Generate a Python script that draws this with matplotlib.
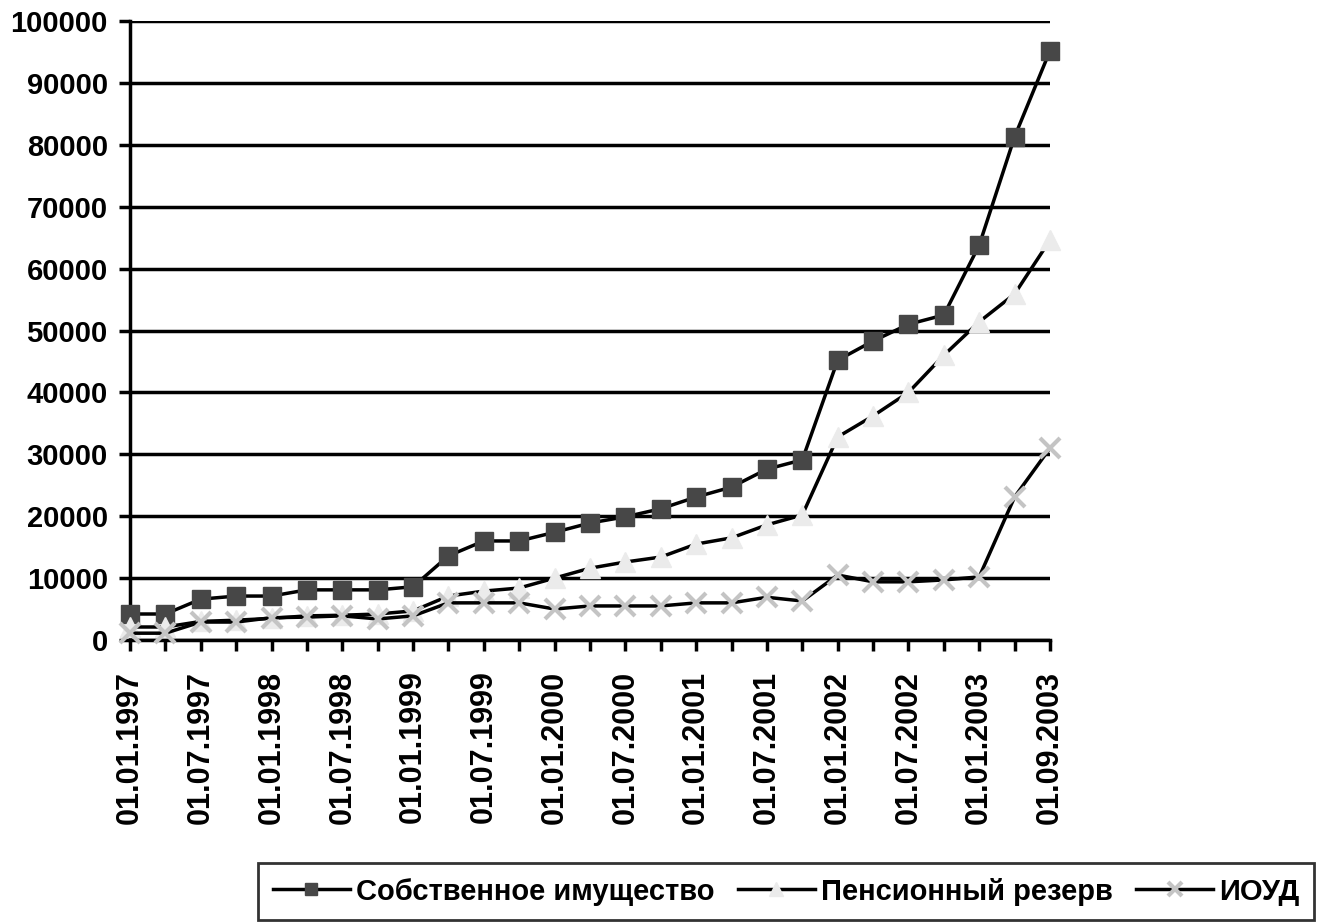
import matplotlib.pyplot as plt

plt.rcParams['font.family'] = ['Liberation Sans', 'DejaVu Sans']
plt.rcParams['font.weight'] = 'bold'

dates = ['01.01.1997', '01.04.1997', '01.07.1997', '01.10.1997',
         '01.01.1998', '01.04.1998', '01.07.1998', '01.10.1998',
         '01.01.1999', '01.04.1999', '01.07.1999', '01.10.1999',
         '01.01.2000', '01.04.2000', '01.07.2000', '01.10.2000',
         '01.01.2001', '01.04.2001', '01.07.2001', '01.10.2001',
         '01.01.2002', '01.04.2002', '01.07.2002', '01.10.2002',
         '01.01.2003', '01.04.2003', '01.09.2003']

own_property = [4200, 4200, 6600, 7100, 7100, 8100, 8100, 8100, 8600,
                13600, 16000, 16000, 17400, 18900, 19900, 21200, 23100,
                24700, 27600, 29100, 45200, 48300, 51000, 52500, 63800,
                81300, 95200]
pension_reserve = [2100, 2100, 3000, 3200, 3500, 3900, 4000, 4200, 4700,
                   7100, 7900, 8400, 10000, 11600, 12600, 13400, 15500,
                   16500, 18600, 20200, 32800, 36200, 40000, 46000, 51400,
                   55900, 64600]
ioud = [1100, 1100, 2900, 2900, 3600, 3700, 3900, 3400, 3900,
        6000, 6000, 6000, 5000, 5500, 5500, 5500, 6000, 6000, 6900,
        6300, 10500, 9400, 9400, 9700, 10200, 23100, 31000]

W, H = 1319, 924
fig = plt.figure(figsize=(W / 100, H / 100), dpi=100)
ax = fig.add_axes([130 / W, 1 - 640 / H, 920 / W, 619 / H])

x = list(range(len(dates)))
ax.plot(x, own_property, color='black', lw=2.5, marker='s', ms=13,
        mfc='#474747', mec='#474747', label='Собственное имущество',
        zorder=3, clip_on=False)
ax.plot(x, pension_reserve, color='black', lw=2.5, marker='^', ms=15,
        mfc='#ebebeb', mec='#ebebeb', label='Пенсионный резерв',
        zorder=4, clip_on=False)
ax.plot(x, ioud, color='black', lw=2.5, marker='x', ms=14, mew=3,
        mfc='#c4c4c4', mec='#c4c4c4', label='ИОУД',
        zorder=5, clip_on=False)

ax.set_xlim(0, len(dates) - 1)
ax.set_ylim(0, 100000)
ax.set_yticks(range(0, 100001, 10000))
ax.yaxis.grid(True, color='black', lw=2.5)
ax.set_axisbelow(True)

ax.set_xticks(x)
ax.set_xticklabels([d if i % 2 == 0 else '' for i, d in enumerate(dates)],
                   rotation=90, fontsize=22, fontweight='bold')
ax.tick_params(axis='y', labelsize=21, length=8, width=2.5, pad=8)
ax.tick_params(axis='x', length=8, width=2.5, pad=14)

for s in ['top', 'right']:
    ax.spines[s].set_visible(False)
ax.spines['left'].set_linewidth(2.5)
ax.spines['bottom'].set_linewidth(2.5)
ax.spines['bottom'].set_zorder(2)

leg = fig.legend(loc='upper left', bbox_to_anchor=(258 / W, 1 - 863 / H),
                 ncol=3, fontsize=21, frameon=True, fancybox=False,
                 edgecolor='black', handlelength=2.65, columnspacing=0.8,
                 handletextpad=0.2, borderpad=0.5, borderaxespad=0,
                 markerscale=0.7)
leg.get_frame().set_linewidth(2)
for t in leg.get_texts():
    t.set_fontweight('bold')

fig.savefig('out.png', dpi=100)
